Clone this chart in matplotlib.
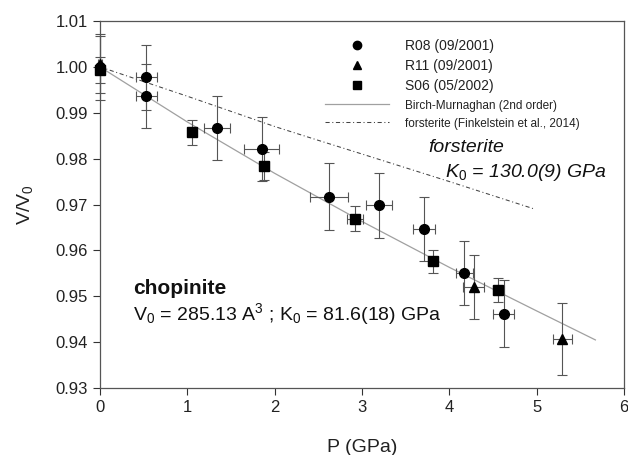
import matplotlib
matplotlib.use("Agg")
import matplotlib.pyplot as plt
from matplotlib.lines import Line2D

plt.rcParams['font.family'] = ['Liberation Sans', 'DejaVu Sans']
plt.rcParams['mathtext.fontset'] = 'custom'
plt.rcParams['mathtext.rm'] = 'Liberation Sans'
plt.rcParams['mathtext.it'] = 'Liberation Sans:italic'
plt.rcParams['mathtext.bf'] = 'Liberation Sans:bold'

# -------------------------
# Datos
# -------------------------
r08_p = [0.0, 0.53, 0.53, 1.34, 1.85, 2.62, 3.19, 3.71, 4.17, 4.62]
r08_v = [0.9999, 0.9977, 0.9937, 0.9866, 0.9821, 0.9717, 0.9698, 0.9647, 0.9551, 0.9462]
r08_perr = [0.02, 0.12, 0.12, 0.15, 0.20, 0.22, 0.15, 0.13, 0.10, 0.12]
r08_verr = [0.0072, 0.0070, 0.0070, 0.0070, 0.0070, 0.0073, 0.0070, 0.0070, 0.0070, 0.0073]

r11_p = [0.0, 4.28, 5.29]
r11_v = [1.0006, 0.9521, 0.9407]
r11_perr = [0.02, 0.12, 0.11]
r11_verr = [0.0062, 0.0070, 0.0078]

s06_p = [0.0, 1.06, 1.88, 2.92, 3.81, 4.56]
s06_v = [0.9993, 0.9857, 0.9784, 0.9669, 0.9576, 0.9513]
s06_perr = [0.02, 0.03, 0.05, 0.09, 0.05, 0.06]
s06_verr = [0.0028, 0.0028, 0.0030, 0.0027, 0.0026, 0.0026]

# curvas (puntos leidos sobre las lineas)
bm_p = [0.0, 1.0, 2.0, 3.0, 4.0, 5.0, 5.67]
bm_v = [1.0, 0.9880, 0.9768, 0.9663, 0.9563, 0.9468, 0.9405]

fo_p = [0.0, 1.0, 2.0, 2.48, 3.0, 4.0, 4.96]
fo_v = [1.0, 0.9936, 0.9870, 0.9841, 0.9810, 0.9750, 0.9691]

fo_style = (0, (4, 2.5, 1, 2.5))

# -------------------------
# Grafico
# -------------------------
fig = plt.figure(figsize=(6.28, 4.55), dpi=100)
ax = fig.add_axes([0.159, 0.147, 0.835, 0.807])

ax.plot(bm_p, bm_v, color='#a0a0a0', lw=0.9, zorder=1)
ax.plot(fo_p, fo_v, color='#444444', lw=0.75, linestyle=fo_style, zorder=1)

ebar = dict(ecolor='#555555', elinewidth=0.8, capsize=3.5, capthick=0.8,
            color='black', linestyle='none', zorder=3, clip_on=False)
ax.errorbar(r08_p, r08_v, xerr=r08_perr, yerr=r08_verr, marker='o', markersize=7, **ebar)
ax.errorbar(r11_p, r11_v, xerr=r11_perr, yerr=r11_verr, marker='^', markersize=7, **ebar)
ax.errorbar(s06_p, s06_v, xerr=s06_perr, yerr=s06_verr, marker='s', markersize=7, **ebar)

ax.set_xlim(0, 6)
ax.set_ylim(0.93, 1.01)
ax.set_xticks(range(0, 7))
ax.set_yticks([0.93, 0.94, 0.95, 0.96, 0.97, 0.98, 0.99, 1.00, 1.01])
ax.set_yticklabels(['%.2f' % t for t in ax.get_yticks()])
ax.tick_params(direction='out', length=5, width=0.8, labelsize=12,
               colors='#333333', labelcolor='#222222')
for s in ax.spines.values():
    s.set_color('#555555')
    s.set_linewidth(0.9)

ax.set_xlabel('P (GPa)', fontsize=14, color='#222222', labelpad=17)
ax.set_ylabel(r'V/V$_0$', fontsize=14, color='#222222', labelpad=15)

# leyenda
handles = [
    Line2D([], [], marker='o', color='black', linestyle='none', markersize=6),
    Line2D([], [], marker='^', color='black', linestyle='none', markersize=6),
    Line2D([], [], marker='s', color='black', linestyle='none', markersize=6),
    Line2D([], [], color='#a0a0a0', lw=0.9),
    Line2D([], [], color='#444444', lw=0.75, linestyle=fo_style),
]
labels = ['R08 (09/2001)', 'R11 (09/2001)', 'S06 (05/2002)',
          'Birch-Murnaghan (2nd order)', 'forsterite (Finkelstein et al., 2014)']
leg = ax.legend(handles, labels, loc='upper left', bbox_to_anchor=(0.43, 0.95),
                frameon=False, fontsize=10, handlelength=4.6, handletextpad=1.1,
                labelspacing=0.42, borderpad=0, borderaxespad=0)
for t in leg.get_texts():
    t.set_color('#222222')
for t in leg.get_texts()[3:]:
    t.set_fontsize(8.5)

# anotaciones
ax.text(0.38, 0.9518, 'chopinite', fontsize=15, fontweight='bold', va='center', color='#111111')
ax.text(0.38, 0.9449, r'V$_0$ = 285.13 A$^3$ ; K$_0$ = 81.6(18) GPa', fontsize=14,
        va='baseline', color='#111111')
ax.text(3.76, 0.9824, 'forsterite', fontsize=14, style='italic', va='center', color='#111111')
ax.text(3.95, 0.9760, r'$K_0$ = 130.0(9) GPa', fontsize=14, style='italic',
        va='baseline', color='#111111')

plt.savefig('out.png', dpi=100)
